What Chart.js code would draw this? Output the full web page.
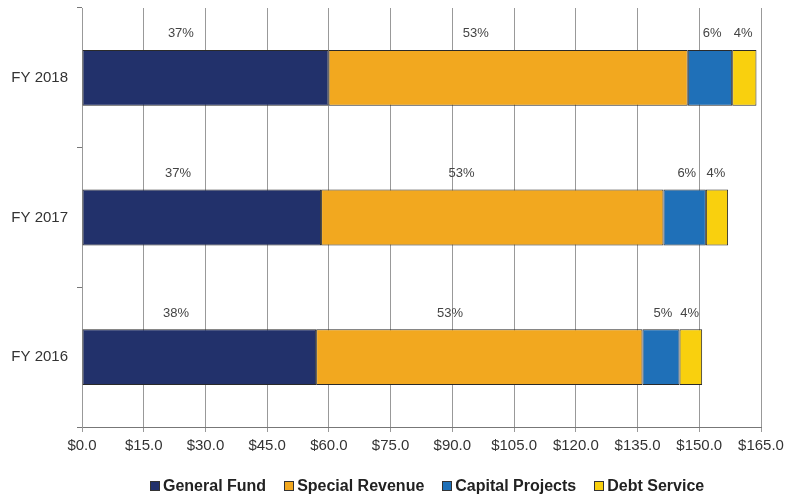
<!DOCTYPE html>
<html>
<head>
<meta charset="utf-8">
<script src="https://cdn.jsdelivr.net/npm/chart.js@4.4.1/dist/chart.umd.min.js"></script>
<style>
  body { margin: 0; background: #fff; }
  #wrap { position: relative; width: 785px; height: 496px; }
  #legend { position: absolute; left: 150px; top: 477px; display: flex; align-items: center;
    font: bold 16px "Liberation Sans", Arial, sans-serif; color: #222; white-space: nowrap; }
  #legend span.item { display: flex; align-items: center; margin-right: 18px; }
  #legend span.box { display: inline-block; width: 8px; height: 8px; border: 1px solid #333; margin-right: 3px; }
</style>
</head>
<body>
<div id="wrap">
  <canvas id="chart" width="785" height="496"></canvas>
  <div id="legend"></div>
</div>
<script>
const years = ['FY 2018', 'FY 2017', 'FY 2016'];
const generalFund = [59.9, 58.1, 56.9];
const specialRevenue = [87.3, 83.2, 79.3];
const capitalProjects = [10.8, 10.3, 9.0];
const debtService = [5.9, 5.4, 5.5];

const generalPct = ['37%', '37%', '38%'];
const specialPct = ['53%', '53%', '53%'];
const capitalPct = ['6%', '6%', '5%'];
const debtPct = ['4%', '4%', '4%'];

const ctx = document.getElementById('chart').getContext('2d');

// percent labels sit above each segment
const pctLabels = {
  id: 'pctLabels',
  afterDatasetsDraw(chart) {
    const c = chart.ctx;
    c.save();
    c.font = '13px "Liberation Sans", Arial, sans-serif';
    c.fillStyle = '#444';
    c.textAlign = 'center';
    c.textBaseline = 'middle';
    chart.data.datasets.forEach((ds, i) => {
      const meta = chart.getDatasetMeta(i);
      meta.data.forEach((bar, j) => {
        const x = bar.base + (bar.x - bar.base) * ds.labelAnchor;
        const y = bar.y - bar.height / 2 - 16;
        c.fillText(ds.pct[j], x, y);
      });
    });
    c.restore();
  }
};

const chart = new Chart(ctx, {
  type: 'bar',
  data: {
    labels: years,
    datasets: [
      { label: 'General Fund', data: generalFund, pct: generalPct, labelAnchor: 0.4, backgroundColor: '#22316b' },
      { label: 'Special Revenue', data: specialRevenue, pct: specialPct, labelAnchor: 0.41, backgroundColor: '#f2a81f' },
      { label: 'Capital Projects', data: capitalProjects, pct: capitalPct, labelAnchor: 0.55, backgroundColor: '#1f70b8' },
      { label: 'Debt Service', data: debtService, pct: debtPct, labelAnchor: 0.45, backgroundColor: '#f9d00e' }
    ]
  },
  options: {
    indexAxis: 'y',
    responsive: false,
    animation: false,
    datasets: {
      bar: {
        borderColor: '#2a2a2a',
        borderWidth: 1,
        borderSkipped: false,
        categoryPercentage: 1,
        barPercentage: 0.4
      }
    },
    layout: { padding: { top: 8, right: 24, left: 0, bottom: 36 } },
    scales: {
      x: {
        stacked: true,
        min: 0,
        max: 165,
        grid: { color: '#999', tickLength: 5 },
        border: { color: '#777' },
        ticks: {
          stepSize: 15,
          padding: 5,
          color: '#333',
          font: { family: '"Liberation Sans", Arial, sans-serif', size: 15 },
          callback: v => '$' + v.toFixed(1)
        },
        afterFit: s => { s.paddingLeft = 0; s.paddingRight = 0; }
      },
      y: {
        stacked: true,
        grid: { offset: true, drawOnChartArea: false, tickLength: 5, color: '#777' },
        border: { color: '#999' },
        ticks: {
          padding: 9,
          color: '#333',
          font: { family: '"Liberation Sans", Arial, sans-serif', size: 15 }
        },
        afterFit: s => { s.width = 82; s.paddingTop = 0; s.paddingBottom = 0; }
      }
    },
    plugins: {
      legend: { display: false },
      tooltip: { enabled: false }
    }
  },
  plugins: [pctLabels]
});

const legend = document.getElementById('legend');
chart.data.datasets.forEach(ds => {
  const item = document.createElement('span');
  item.className = 'item';
  const box = document.createElement('span');
  box.className = 'box';
  box.style.background = ds.backgroundColor;
  item.appendChild(box);
  item.appendChild(document.createTextNode(ds.label));
  legend.appendChild(item);
});
</script>
</body>
</html>
